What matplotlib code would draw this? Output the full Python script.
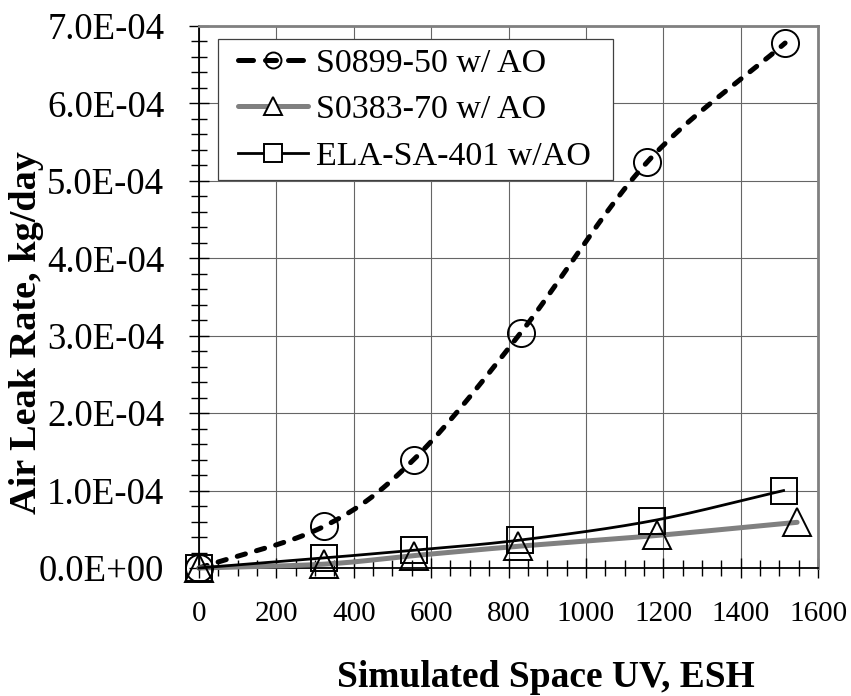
import numpy as np
import matplotlib
matplotlib.use("Agg")
import matplotlib.pyplot as plt
from matplotlib.ticker import MultipleLocator, FuncFormatter
from matplotlib.lines import Line2D
from matplotlib.patches import Rectangle

plt.rcParams['font.family'] = ['Liberation Serif', 'DejaVu Serif']

# ---- data ----
labels = ["S0899-50 w/ AO", "S0383-70 w/ AO", "ELA-SA-401 w/AO"]
x_s0899 = [0, 324, 555, 832, 1158, 1515]
y_s0899 = [0.0, 0.54e-4, 1.40e-4, 3.04e-4, 5.24e-4, 6.78e-4]
x_s0383 = [0, 324, 555, 824, 1183, 1546]
y_s0383 = [0.0, 0.05e-4, 0.16e-4, 0.28e-4, 0.42e-4, 0.59e-4]
x_ela = [0, 324, 555, 829, 1172, 1511]
y_ela = [0.0, 0.13e-4, 0.23e-4, 0.36e-4, 0.61e-4, 1.00e-4]

XMAX, YMAX = 1600, 7e-4


def smooth(x, y, n=30):
    """Catmull-Rom curve through the points (Excel-like smoothed line)."""
    p = np.column_stack([np.asarray(x, float) / XMAX, np.asarray(y, float) / YMAX])
    P = np.vstack([2 * p[0] - p[1], p, 2 * p[-1] - p[-2]])
    out = []
    t = np.linspace(0, 1, n)[:, None]
    for i in range(1, len(P) - 2):
        p0, p1, p2, p3 = P[i - 1], P[i], P[i + 1], P[i + 2]
        seg = 0.5 * (2 * p1 + (-p0 + p2) * t + (2 * p0 - 5 * p1 + 4 * p2 - p3) * t ** 2
                     + (-p0 + 3 * p1 - 3 * p2 + p3) * t ** 3)
        out.append(seg if i == 1 else seg[1:])
    c = np.vstack(out)
    return c[:, 0] * XMAX, c[:, 1] * YMAX


W, H = 851, 696
fig = plt.figure(figsize=(W / 100, H / 100), dpi=100)
ax = fig.add_axes([199 / W, 1 - 568 / H, 619 / W, 542 / H])

ms = 19.5
mew = 1.4

# lines
sx, sy = smooth(x_s0899, y_s0899)
ax.plot(sx, sy, color='black', lw=3.6, linestyle=(0, (1.7, 2.3)),
        dash_capstyle='round', zorder=3, clip_on=False)
sx, sy = smooth(x_s0383, y_s0383)
ax.plot(sx, sy, color='#808080', lw=3.6, solid_capstyle='round', zorder=3, clip_on=False)
sx, sy = smooth(x_ela, y_ela)
ax.plot(sx, sy, color='black', lw=2.0, zorder=3.5, clip_on=False)

# markers
ax.plot(x_s0899, y_s0899, linestyle='none', marker='o', ms=ms, mfc='none',
        mec='black', mew=mew, zorder=4, clip_on=False)
ax.plot(x_s0383, y_s0383, linestyle='none', marker='^', ms=ms, mfc='none',
        mec='black', mew=mew, zorder=4, clip_on=False)
ax.plot(x_ela, y_ela, linestyle='none', marker='s', ms=ms * 0.98, mfc='none',
        mec='black', mew=mew, zorder=4, clip_on=False)

# axes
ax.set_xlim(0, XMAX)
ax.set_ylim(0, YMAX)
ax.xaxis.set_major_locator(MultipleLocator(200))
ax.xaxis.set_minor_locator(MultipleLocator(50))
ax.yaxis.set_major_locator(MultipleLocator(1e-4))
ax.yaxis.set_minor_locator(MultipleLocator(2e-5))
ax.yaxis.set_major_formatter(FuncFormatter(lambda v, p: f"{v:.1E}"))
ax.grid(True, which='major', color='#666666', lw=0.8)
ax.set_axisbelow(True)

ax.tick_params(axis='both', which='major', direction='inout', length=14, width=1.0,
               color='black')
ax.tick_params(axis='both', which='minor', direction='inout', length=11, width=1.0,
               color='black')
ax.tick_params(axis='x', which='major', labelsize=21, pad=17)
ax.tick_params(axis='y', which='major', labelsize=26.5, pad=18)

for s in ['left', 'bottom']:
    ax.spines[s].set_color('black')
    ax.spines[s].set_linewidth(1.3)
for s in ['top', 'right']:
    ax.spines[s].set_color('#808080')
    ax.spines[s].set_linewidth(2.0)

# legend frame (drawn separately so that its padding matches the reference)
frame = Rectangle((218 / W, 1 - 180 / H), (613 - 218) / W, (180 - 39) / H,
                  transform=fig.transFigure, facecolor='white', edgecolor='#404040',
                  lw=0.9, zorder=9)
fig.patches.append(frame)

h1 = Line2D([], [], color='black', lw=3.6, linestyle=(0, (3.0, 2.4, 2.2, 2.4, 3.0, 30)),
            dash_capstyle='round', marker='o', ms=11.5, mfc='none', mec='black', mew=mew)
h2 = Line2D([], [], color='#808080', lw=3.6, solid_capstyle='round',
            marker='^', ms=12.5, mfc='white', mec='black', mew=mew)
h3 = Line2D([], [], color='black', lw=2.0,
            marker='s', ms=12.5, mfc='white', mec='black', mew=mew)

FS = 24.5
fs_px = FS * 100 / 72
first_center, spacing_target = 63.3, 46.7


def make_legend(ls, top):
    lg = fig.legend([h1, h2, h3], labels, loc='upper left',
                    bbox_to_anchor=(238 / W, 1 - top / H), bbox_transform=fig.transFigure,
                    borderaxespad=0, borderpad=0, fontsize=FS, frameon=False,
                    handlelength=70 / fs_px, handletextpad=8 / fs_px,
                    labelspacing=ls)
    lg.set_zorder(10)
    return lg


ls0, top0 = 0.45, 48
leg = make_legend(ls0, top0)
fig.canvas.draw()
r = fig.canvas.get_renderer()
cs = [H - 0.5 * (t.get_window_extent(r).y0 + t.get_window_extent(r).y1) for t in leg.get_texts()]
sp = (cs[-1] - cs[0]) / 2
ls1 = ls0 + (spacing_target - sp) / fs_px
leg.remove()
leg = make_legend(ls1, top0)
fig.canvas.draw()
cs = [H - 0.5 * (t.get_window_extent(r).y0 + t.get_window_extent(r).y1) for t in leg.get_texts()]
top1 = top0 + (first_center - cs[0])
leg.remove()
leg = make_legend(ls1, top1)

fig.text(546 / W, 1 - 687 / H, "Simulated Space UV, ESH", ha='center', va='baseline',
         fontsize=27, fontweight='bold')
fig.text(27 / W, 1 - 333 / H, "Air Leak Rate, kg/day", ha='center', va='center',
         rotation=90, fontsize=27.5, fontweight='bold')

fig.savefig("out.png", dpi=100)
